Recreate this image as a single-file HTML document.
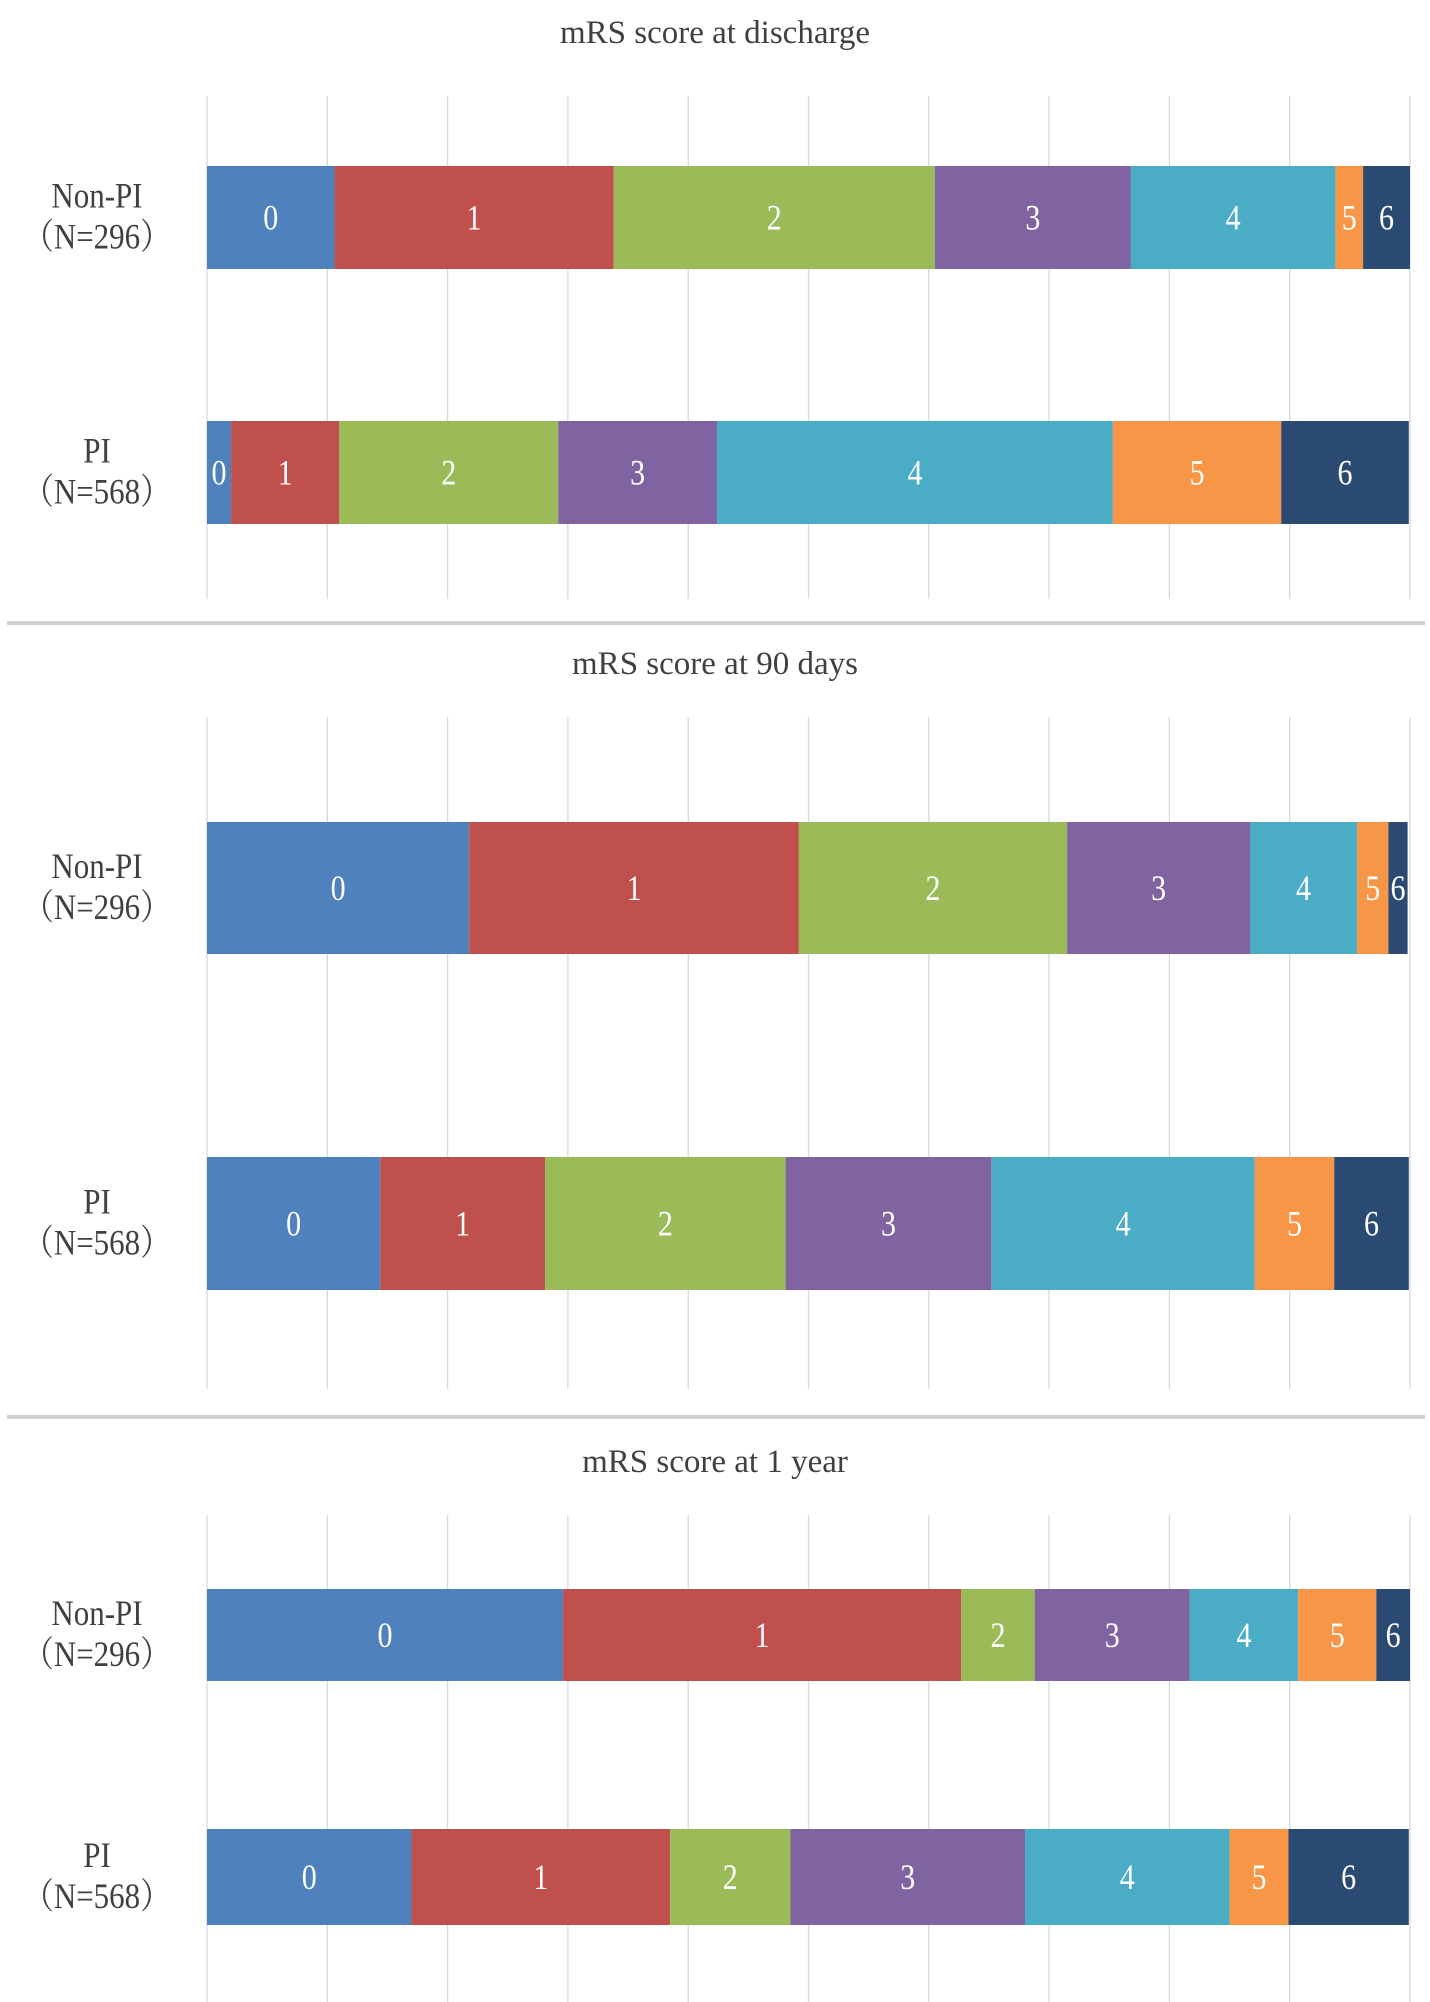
<!DOCTYPE html>
<html><head><meta charset="utf-8"><style>
html,body{margin:0;padding:0;background:#fff;}
svg{display:block;font-family:"Liberation Serif","Noto Serif CJK SC",serif;}
</style></head><body>
<svg id="chart" width="1430" height="2002" viewBox="0 0 1430 2002" xmlns="http://www.w3.org/2000/svg"></svg>
<script>
const scores = ["0","1","2","3","4","5","6"];
const colors = ["#4F81BD","#C0504D","#9BBB59","#8064A2","#4BACC6","#F79646","#2B4A72"];
const panelTitles = ["mRS score at discharge","mRS score at 90 days","mRS score at 1 year"];
const groupNames = ["Non-PI","PI"];
const groupNs = ["（N=296）","（N=568）"];
const dischargeNonPI = [10.6,23.2,26.7,16.3,17.0,2.3,3.9];
const dischargePI = [2.0,9.0,18.2,13.2,32.9,14.0,10.6];
const days90NonPI = [21.8,27.4,22.3,15.2,8.9,2.6,1.6];
const days90PI = [14.4,13.7,20.0,17.1,21.9,6.6,6.2];
const year1NonPI = [29.6,33.1,6.1,12.9,9.0,6.5,2.8];
const year1PI = [17.0,21.5,10.0,19.5,17.0,4.9,10.0];
const gridTicks = [0,10,20,30,40,50,60,70,80,90,100];

const NS = "http://www.w3.org/2000/svg";
const svg = document.getElementById('chart');
const X0 = 207, X1 = 1410;
function xScale(v){ return X0 + (X1 - X0) * v / 100; }
function mk(tag, attrs, parent){
  const e = document.createElementNS(NS, tag);
  for (const k in attrs) e.setAttribute(k, attrs[k]);
  (parent || svg).appendChild(e);
  return e;
}
const layout = [
  {titleY:43, gTop:96, gBot:599, bars:[[166,269],[421,524]], sep:623, data:[dischargeNonPI,dischargePI]},
  {titleY:674, gTop:717, gBot:1389, bars:[[822,954],[1157,1290]], sep:1417, data:[days90NonPI,days90PI]},
  {titleY:1472, gTop:1515, gBot:2002, bars:[[1589,1681],[1829,1925]], sep:null, data:[year1NonPI,year1PI]}
];
layout.forEach((p, pi) => {
  const g = mk('g', {});
  
  
  const t = mk('text', {x:715, y:p.titleY, 'text-anchor':'middle', 'font-size':33, fill:'#404040'}, g);
  
  
  t.textContent = panelTitles[pi];
  gridTicks.forEach(v => {
    const l = mk('line', {x1:xScale(v), x2:xScale(v), y1:p.gTop, y2:p.gBot, stroke:'#d9d9d9', 'stroke-width':1.3}, g);
    
    
  });
  p.data.forEach((vals, gi) => {
    const [y0, y1] = p.bars[gi];
    const cy = (y0 + y1) / 2;
    let acc = 0;
    vals.forEach((v, si) => {
      const xa = xScale(acc), xb = xScale(acc + v);
      const r = mk('rect', {x:xa, y:y0, width:Math.max(0, xb - xa), height:y1 - y0, fill:colors[si]}, g);
      
      
      const cx = (xa+xb)/2;
      const lt = mk('text', {x:cx, y:0, 'text-anchor':'middle', 'font-size':30, fill:'#fff', transform:'translate(0,' + (cy + 12) + ') scale(1,1.2)'}, g);
      
      
      lt.textContent = scores[si];
      acc += v;
    });
    const n1 = mk('text', {x:97, y:0, 'text-anchor':'middle', 'font-size':31, fill:'#404040', transform:'translate(0,' + (cy - 10) + ') scale(1,1.15)'}, g);
    
    
    n1.textContent = groupNames[gi];
    const n2 = mk('text', {x:97, y:0, 'text-anchor':'middle', 'font-size':31, fill:'#404040', transform:'translate(0,' + (cy + 31) + ') scale(1,1.15)'}, g);
    
    
    n2.textContent = groupNs[gi];
  });
  if (p.sep) {
    const s = mk('line', {x1:7, x2:1425, y1:p.sep, y2:p.sep, stroke:'#d0d0d0', 'stroke-width':4}, g);
    
    
  }
});
</script>
</body></html>
